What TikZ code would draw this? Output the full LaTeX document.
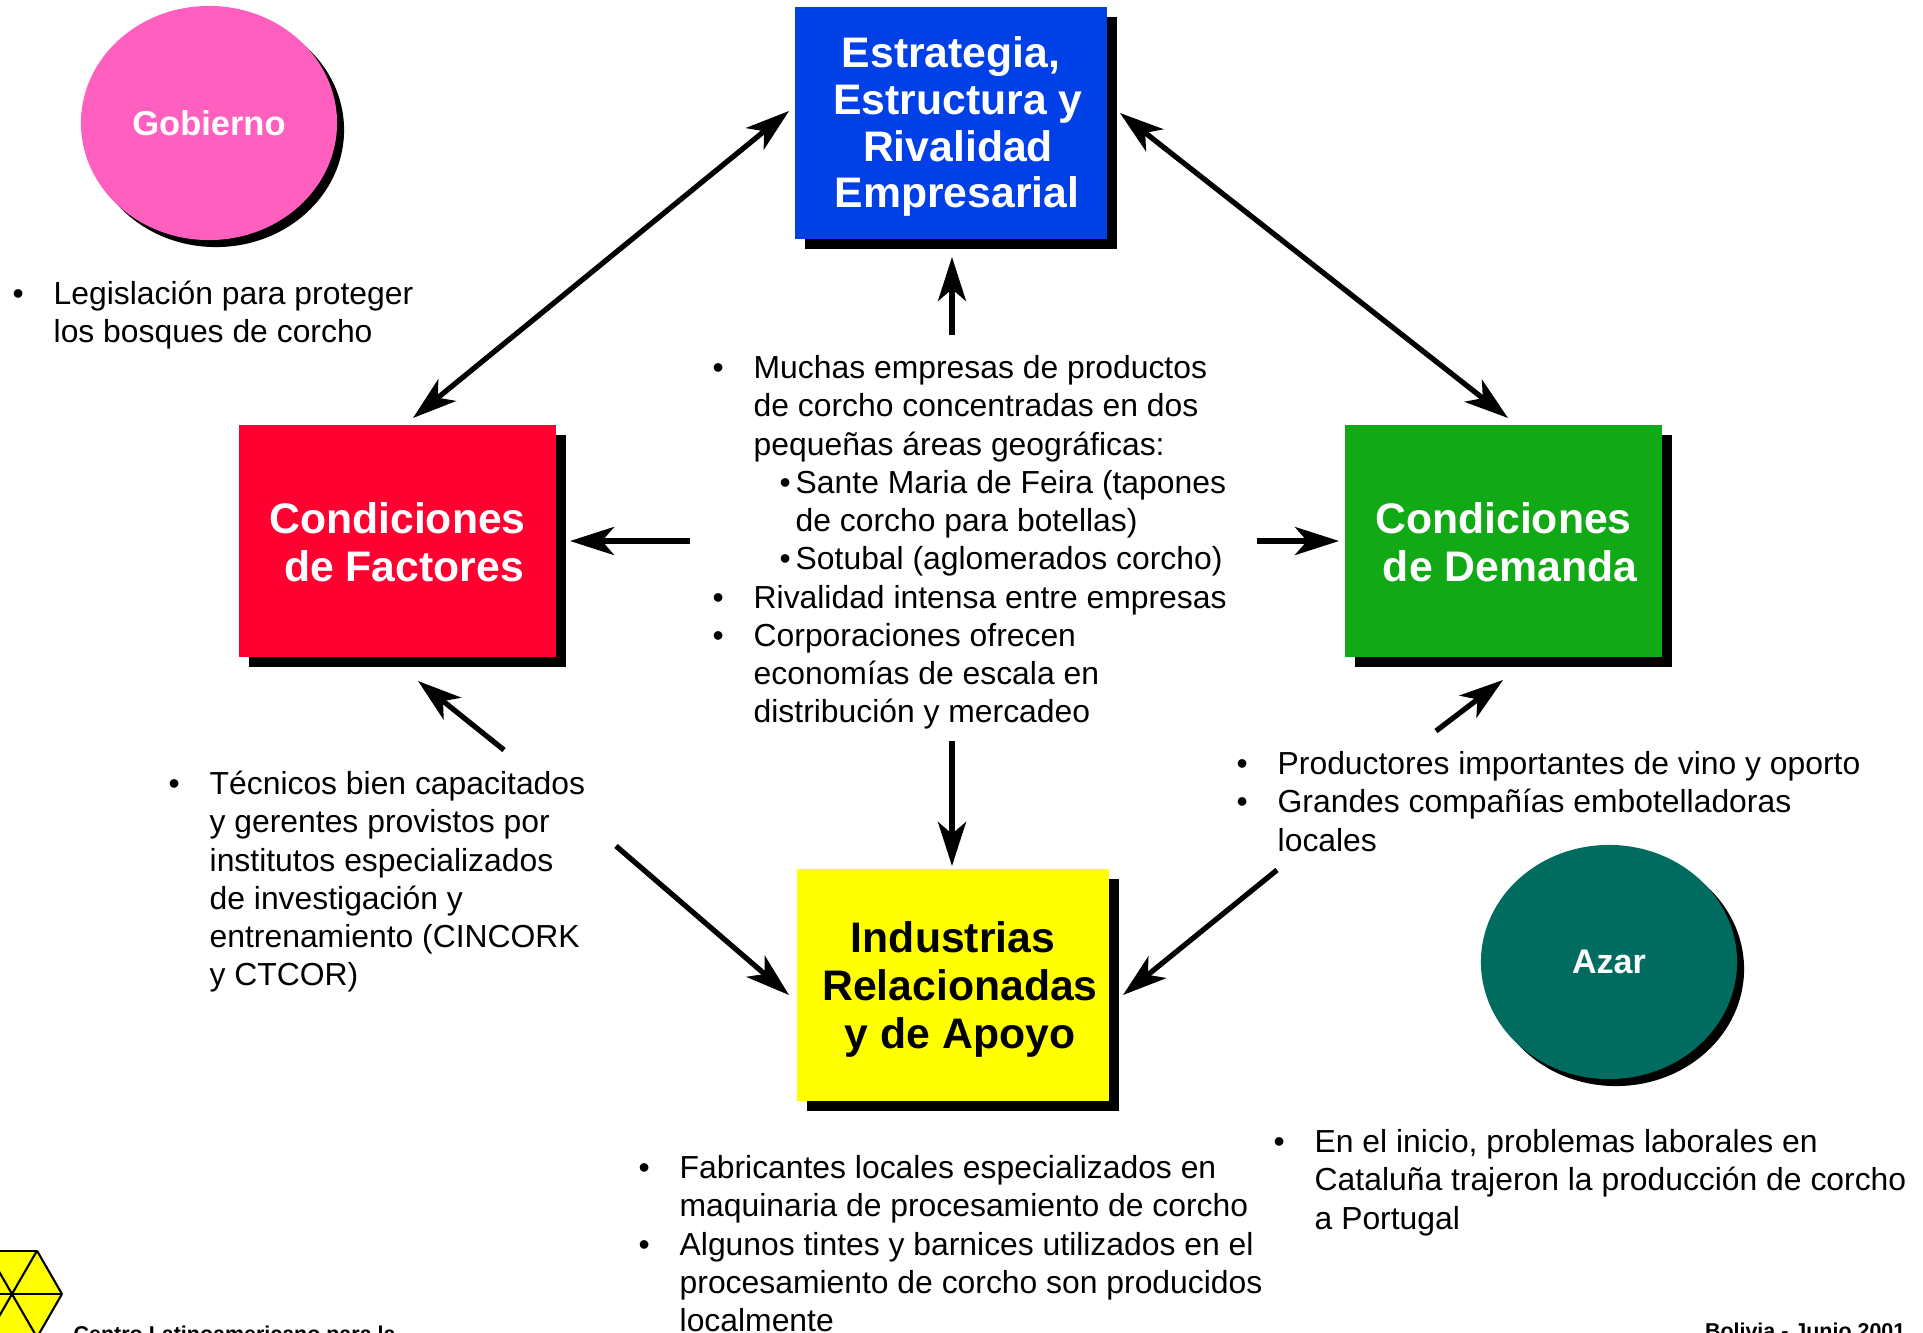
\documentclass[tikz,border=0pt]{standalone}
\usepackage{fontspec}
\setmainfont{Liberation Sans}
\usepackage{xcolor}
\usetikzlibrary{arrows.meta}
\usetikzlibrary{shadows}
\usetikzlibrary{shapes.geometric}
\definecolor{azulbox}{RGB}{0,64,230}
\definecolor{rojobox}{RGB}{255,0,48}
\definecolor{verdebox}{RGB}{17,170,22}
\definecolor{amarillobox}{RGB}{255,255,0}
\definecolor{rosaoval}{RGB}{255,95,190}
\definecolor{tealoval}{RGB}{0,108,96}
\newcommand{\itm}{\llap{\textbullet\hspace{0.30cm}}}
\newcommand{\sub}{\hspace*{0.42cm}\llap{\textbullet\hspace{0.05cm}}}
\newcommand{\drop}[1]{\rule{0pt}{#1}}
\tikzset{
  titlebox/.style={rectangle,minimum width=3.12cm,minimum height=2.31cm,inner sep=0pt,align=center,
    font=\bfseries\fontsize{12.15}{13.7}\selectfont,
    general shadow={fill=black,shadow xshift=0.10cm,shadow yshift=-0.10cm}},
  oval/.style={ellipse,minimum width=2.56cm,minimum height=2.34cm,inner sep=0pt,text=white,
    general shadow={fill=black,shadow xshift=0.07cm,shadow yshift=-0.07cm}},
  bodytext/.style={anchor=north west,inner sep=0pt,align=left,
    font=\fontsize{9.06}{10.88}\selectfont},
  footer/.style={inner sep=0pt,font=\bfseries\fontsize{6.1}{7}\selectfont},
  arrowline/.style={line width=1.5pt,>={Stealth[length=4.4mm,width=2.8mm,inset=1.2mm]}}
}
\begin{document}
\begin{tikzpicture}[x=0.01cm,y=-0.01cm]
  \useasboundingbox (0,0) rectangle (1923,1333);

  \node[titlebox,fill=azulbox,text=white,font=\bfseries\fontsize{12.15}{13.3}\selectfont] (estrategia) at (951,123) {\drop{0.384cm}Estrategia,\\\hspace*{0.14cm}Estructura y\\\hspace*{0.14cm}Rivalidad\\\hspace*{0.12cm}Empresarial};
  \node[titlebox,fill=rojobox,text=white,minimum width=3.17cm] (factores) at (397.5,541) {\drop{0.335cm}Condiciones\\\hspace*{0.13cm}de Factores};
  \node[titlebox,fill=verdebox,text=white,minimum width=3.17cm] (demanda) at (1503.5,541) {\drop{0.335cm}Condiciones\\\hspace*{0.13cm}de Demanda};
  \node[titlebox,fill=amarillobox,text=black] (apoyo) at (953,985) {\drop{0.40cm}Industrias\\\hspace*{0.14cm}Relacionadas\\\hspace*{0.14cm}y de Apoyo};

  \node[oval,fill=rosaoval,font=\bfseries\fontsize{9.8}{11}\selectfont] (gobierno) at (209,123) {Gobierno};
  \node[oval,fill=tealoval,font=\bfseries\fontsize{9.7}{11}\selectfont] (azar) at (1609,962) {Azar};

  \node[bodytext] (legislacion) at (53,277) {\strut\itm Legislación para proteger\\los bosques de corcho};
  \node[bodytext] (central) at (753,351) {\strut\itm Muchas empresas de productos\\de corcho concentradas en dos\\pequeñas áreas geográficas:\\\sub Sante Maria de Feira (tapones\\\hspace*{0.42cm}de corcho para botellas)\\\sub Sotubal (aglomerados corcho)\\\itm Rivalidad intensa entre empresas\\\itm Corporaciones ofrecen\\economías de escala en\\distribución y mercadeo};
  \node[bodytext] (tecnicos) at (209,767) {\strut\itm Técnicos bien capacitados\\y gerentes provistos por\\institutos especializados\\de investigación y\\entrenamiento (CINCORK\\y CTCOR)};
  \node[bodytext] (productores) at (1277,747) {\strut\itm Productores importantes de vino y oporto\\\itm Grandes compañías embotelladoras\\locales};
  \node[bodytext] (fabricantes) at (679,1151) {\strut\itm Fabricantes locales especializados en\\maquinaria de procesamiento de corcho\\\itm Algunos tintes y barnices utilizados en el\\procesamiento de corcho son producidos\\localmente};
  \node[bodytext] (inicio) at (1314,1125) {\strut\itm En el inicio, problemas laborales en\\Cataluña trajeron la producción de corcho\\a Portugal};

  \node[footer,anchor=base west] (centro) at (73,1341) {Centro Latinoamericano para la};
  \node[footer,anchor=base east] (bolivia) at (1906,1338) {Bolivia -  Junio 2001};

  % logo
  \coordinate (hexa) at (12,1294);
  \fill[amarillobox] (hexa) ++(50,0) -- ++(-25,-43) -- ++(-50,0) -- ++(-25,43) -- ++(25,43) -- ++(50,0) -- cycle;
  \foreach \k in {0,60,...,300}{
    \draw[line width=0.6pt] (hexa) -- ++(\k:50);
    \draw[line width=0.6pt] (hexa) ++(\k:50) -- ++(\k+120:50);
  }

  \coordinate (estrategiaL) at (789,111);
  \coordinate (factoresT) at (413,418);
  \coordinate (estrategiaR) at (1120,113);
  \coordinate (demandaT) at (1508,418);
  \coordinate (centralT) at (952,335);
  \coordinate (estrategiaB) at (952,257);
  \coordinate (centralL) at (690,541);
  \coordinate (factoresR) at (570,541);
  \coordinate (centralR) at (1257,541);
  \coordinate (demandaL) at (1339,541);
  \coordinate (centralB) at (952,741);
  \coordinate (apoyoT) at (952,866);
  \coordinate (tecnicosT) at (504,750);
  \coordinate (factoresB) at (418,681);
  \coordinate (tecnicosB) at (616,846);
  \coordinate (apoyoL) at (789,995);
  \coordinate (productoresT) at (1436,731);
  \coordinate (demandaB) at (1503,680);
  \coordinate (productoresB) at (1277,870);
  \coordinate (apoyoR) at (1123,995);

  \draw[arrowline,<->] (estrategiaL) -- (factoresT);
  \draw[arrowline,<->] (estrategiaR) -- (demandaT);
  \foreach \from/\to in {centralT/estrategiaB,centralL/factoresR,centralR/demandaL,centralB/apoyoT,tecnicosT/factoresB,tecnicosB/apoyoL,productoresT/demandaB,productoresB/apoyoR}{
    \draw[arrowline,->] (\from) -- (\to);
  }
\end{tikzpicture}
\end{document}
